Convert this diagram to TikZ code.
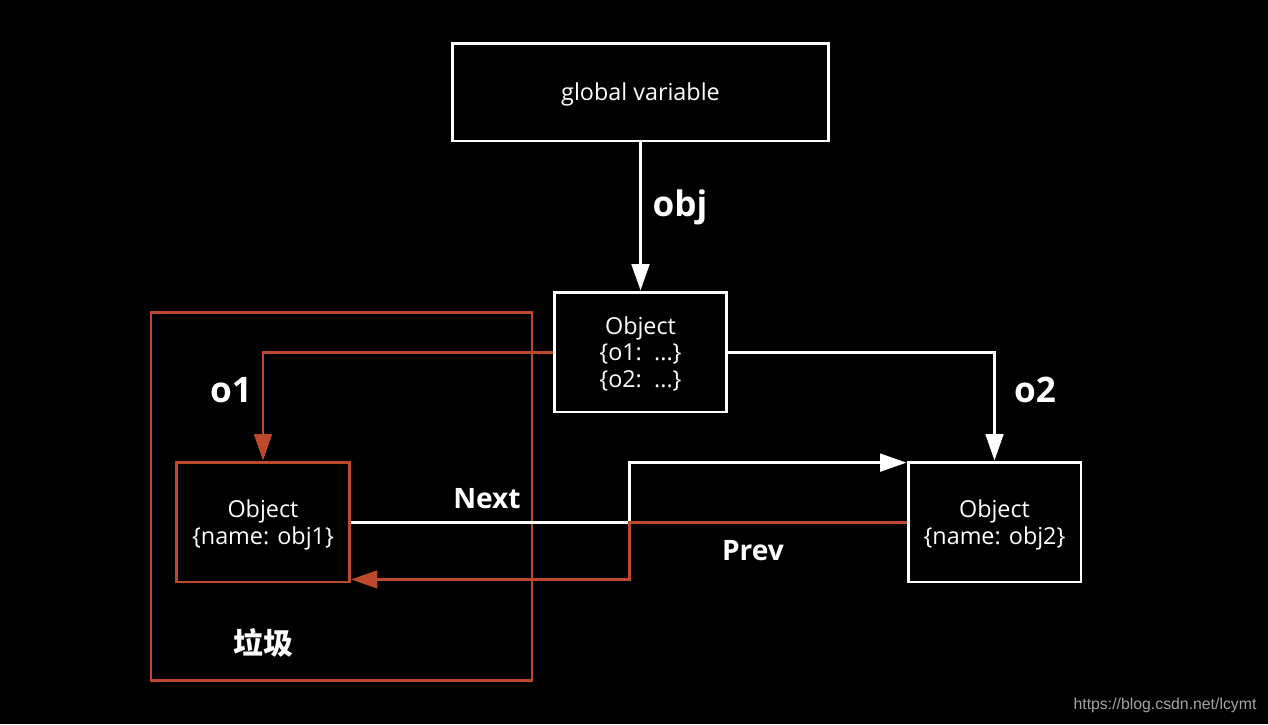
\documentclass[tikz,border=0pt]{standalone}
\usepackage{fontspec}
\setmainfont{Open Sans}
\newfontfamily\cjk{Noto Sans CJK SC}
\newfontfamily\wmfont{Liberation Sans}
\usetikzlibrary{arrows.meta}

\definecolor{rubbish}{RGB}{190,72,42}
\definecolor{wmgray}{RGB}{165,165,165}

\tikzset{
    objbox/.style={draw=white, line width=1.7pt, inner sep=0pt, text=white, align=center, text depth=0pt,
        minimum width=3.46cm, minimum height=2.4cm, font=\fontsize{13.3}{15.3}\selectfont},
    link/.style={line width=1.7pt, -{Triangle[length=15pt,width=10pt]}},
    tag/.style={text=white, font=\bfseries\fontsize{20}{23}\selectfont},
    smalltag/.style={text=white, font=\bfseries\fontsize{16}{19}\selectfont},
}

\begin{document}
\begin{tikzpicture}[x=0.02cm, y=-0.02cm]
        \fill[black] (0, 0) rectangle (1268, 724);
        \useasboundingbox (0, 0) rectangle (1268, 724);

        % garbage area
        \draw[rubbish, line width=1.7pt] (151, 312) rectangle (532, 680);
        \node[text=white, font=\cjk\bfseries\fontsize{17}{20}\selectfont] (bin) at (263, 643) {垃圾};

        \node[objbox, minimum width=7.54cm, minimum height=1.96cm] (global) at (640.5, 92) {global variable};
        \node[objbox] (top) at (640.5, 352) {Object\\\{o1:~~...\}\\\{o2:~~...\}};
        \node[objbox, draw=rubbish] (obja) at (263, 522) {Object\\\{name: obj1\}};
        \node[objbox] (objb) at (994.5, 522) {Object\\\{name: obj2\}};

        \coordinate (turn) at (629, 522);

        \draw[link, white] (global) -- (top);
        \draw[link, rubbish] (top.west) -| (obja.north);
        \draw[link, white] (top.east) -| (objb.north);
        \draw[link, white] (obja.east) -- (turn) |- ([yshift=-1.2pt]objb.north west);
        \draw[link, rubbish] (objb.west) -- (turn) |- ([yshift=2.3pt]obja.south east);

        \node[tag] (objlabel) at (680, 207) {obj};
        \node[tag] (o1label) at (231, 390) {o1};
        \node[tag] (o2label) at (1035, 390) {o2};
        \node[smalltag] (nextlabel) at (487, 499) {Next};
        \node[smalltag] (prevlabel) at (753, 551) {Prev};

        \node[text=wmgray, font=\wmfont\fontsize{9}{11}\selectfont] (mark) at (1165, 705) {https://blog.csdn.net/lcymt};
\end{tikzpicture}
\end{document}
